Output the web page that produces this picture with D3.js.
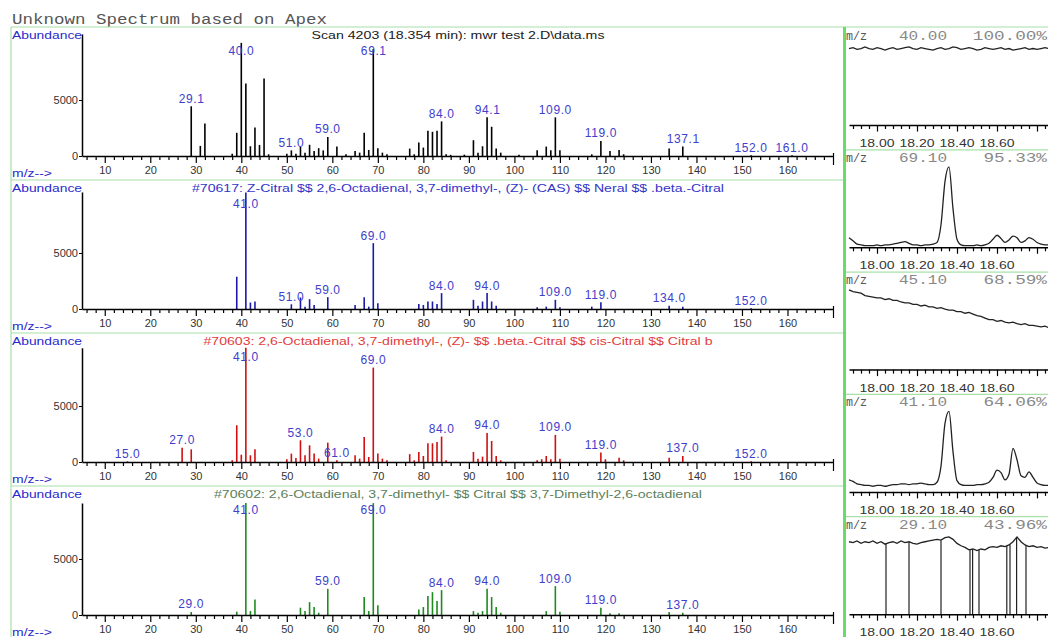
<!DOCTYPE html>
<html>
<head>
<meta charset="utf-8">
<script src="https://cdn.jsdelivr.net/npm/d3@7/dist/d3.min.js"></script>
<style>
body{margin:0;background:#fff}
svg{display:block}
text{font-family:"Liberation Sans",Arial,sans-serif}
.mono{font-family:"Liberation Mono","Courier New",monospace}
</style>
</head>
<body>
<svg id="chart" width="1048" height="637"></svg>
<script>
// ---- data ----
var title = 'Unknown Spectrum based on Apex';

var headers = [
  'Scan 4203 (18.354 min): mwr test 2.D\\data.ms',
  '#70617: Z-Citral $$ 2,6-Octadienal, 3,7-dimethyl-, (Z)- (CAS) $$ Neral $$ .beta.-Citral',
  '#70603: 2,6-Octadienal, 3,7-dimethyl-, (Z)- $$ .beta.-Citral $$ cis-Citral $$ Citral b',
  '#70602: 2,6-Octadienal, 3,7-dimethyl- $$ Citral $$ 3,7-Dimethyl-2,6-octadienal'
];
var headerWidths = [293, 532, 509, 488];
var headerColors = ['#202020', '#3535c8', '#e23c3c', '#5a805a'];
var barColors = ['#000000', '#1a1aa8', '#d01010', '#1f8a1f'];
var yTops = [10900, 10450, 10200, 10000];

// [m/z, abundance]
var peaksScan = [[29,4440],[31,900],[32,2900],[38,200],[39,2070],[40,10100],[41,6470],[42,870],[43,2550],[44,990],[45,6930],[46,150],[50,200],[51,500],[52,200],[53,840],[54,300],[55,1000],[56,450],[57,700],[58,500],[59,1700],[61,840],[63,150],[65,450],[66,300],[67,2070],[68,540],[69,9550],[70,690],[71,300],[72,150],[77,660],[78,150],[79,1200],[80,750],[81,2250],[82,2160],[83,2250],[84,3090],[85,150],[86,100],[89,120],[91,1410],[92,300],[93,870],[94,3450],[95,2610],[96,660],[97,300],[101,120],[105,510],[107,840],[108,510],[109,3450],[110,510],[117,150],[119,1350],[121,450],[123,540],[124,150],[134,660],[137,840],[152,60],[161,60]];
var peaks70617 = [[39,2880],[41,10400],[42,575],[43,670],[51,420],[53,1030],[54,210],[55,880],[56,360],[59,1060],[65,360],[67,1060],[68,210],[69,5880],[70,515],[79,450],[80,360],[81,670],[82,670],[83,450],[84,1420],[91,820],[92,300],[93,670],[94,1420],[95,670],[96,300],[105,150],[107,210],[109,820],[110,150],[117,210],[119,600],[134,300],[137,210],[152,60]];
var peaks70603 = [[15,60],[27,1280],[29,1130],[38,150],[39,3280],[40,650],[41,10200],[42,600],[43,1130],[50,240],[51,750],[52,360],[53,1940],[54,600],[55,1490],[56,750],[57,300],[59,1730],[61,150],[65,600],[66,300],[67,2230],[68,450],[69,8430],[70,750],[71,300],[72,150],[77,700],[78,150],[79,900],[80,540],[81,1670],[82,1670],[83,1790],[84,2270],[85,150],[91,900],[92,300],[93,480],[94,2600],[95,1880],[96,540],[97,150],[105,150],[106,250],[107,540],[108,250],[109,2420],[110,300],[119,840],[120,250],[123,390],[124,150],[134,390],[137,540],[152,60]];
var peaks70602 = [[29,270],[39,300],[41,9990],[42,350],[43,1390],[53,650],[54,350],[55,1150],[56,710],[57,200],[59,2340],[67,1600],[68,350],[69,9990],[70,860],[79,500],[80,710],[81,1690],[82,2040],[83,1240],[84,2220],[91,350],[92,200],[93,350],[94,2340],[95,1600],[96,710],[97,200],[107,350],[109,2580],[110,300],[119,650],[121,150],[123,150],[134,270],[137,200]];

var labelsScan = ['29.1','40.0','51.0','59.0','69.1','84.0','94.1','109.0','119.0','137.1','152.0','161.0'];
var labels70617 = ['41.0','51.0','59.0','69.0','84.0','94.0','109.0','119.0','134.0','152.0'];
var labels70603 = ['15.0','27.0','41.0','53.0','61.0','69.0','84.0','94.0','109.0','119.0','137.0','152.0'];
var labels70602 = ['29.0','41.0','59.0','69.0','84.0','94.0','109.0','119.0','137.0'];

var mzTicks = [10,20,30,40,50,60,70,80,90,100,110,120,130,140,150,160];
var abundanceTicks = [0, 5000];

// extracted ion chromatograms (percent of each trace's own maximum)
var ionMz = ['40.00','69.10','45.10','41.10','29.10'];
var ionPct = ['100.00%','95.33%','68.59%','64.06%','43.96%'];
var timeTicks = ['18.00','18.20','18.40','18.60'];
var ticTimes = [17.86,17.88,17.90,17.92,17.94,17.96,17.98,18.00,18.02,18.04,
  18.06,18.08,18.10,18.12,18.14,18.16,18.18,18.20,18.22,18.24,
  18.26,18.28,18.30,18.32,18.34,18.36,18.38,18.40,18.42,18.44,
  18.46,18.48,18.50,18.52,18.54,18.56,18.58,18.60,18.62,18.64,
  18.66,18.68,18.70,18.72,18.74,18.76,18.78,18.80,18.82,18.84,18.86];
var eic40 = [95,96,94,95,97,95,94,96,95,93, 95,96,94,95,96,97,95,94,96,95,
  94,93,95,96,94,95,97,96,94,95, 96,95,93,94,96,95,94,95,96,94, 95,93,94,95,96,94,95,94,95,96, 95];
var eic69 = [12,8,4,3,2,2,2,3,2,3, 3,4,5,6,7,5,3,3,2,3,
  3,4,6,28,82,100,48,10,3,2, 2,2,3,2,3,5,10,15,11,6, 9,14,12,6,8,12,10,6,4,3, 3];
var eic45 = [99,97,96,95,92,91,90,89,89,87, 88,86,86,84,83,83,81,81,79,80,
  78,78,76,77,75,74,74,72,72,70, 71,69,67,66,64,62,62,60,61,59, 58,59,57,56,57,55,55,54,53,54, 52];
var eic41 = [15,13,10,9,8,8,7,8,8,7, 8,9,9,10,10,9,10,10,11,10,
  9,9,12,32,85,100,50,14,9,8, 8,8,9,9,10,12,18,27,24,15, 22,54,40,20,18,25,18,11,9,8, 8];
var eic29 = [90,89,91,88,90,89,91,88,90,87, 89,90,88,91,89,90,88,87,89,90,
  91,92,93,92,95,96,93,88,85,83, 80,81,79,81,80,83,84,83,85,84, 86,90,96,90,86,84,85,83,84,82, 83];
var drops29 = [18.045,18.16,18.32,18.465,18.478,18.51,18.649,18.665,18.698,18.745];

// ---- drawing ----
var svg = d3.select('#chart');
var W = 1048, H = 637;
var lightGreen = '#a8e0a8';

svg.append('rect').attr('width', W).attr('height', H).attr('fill', '#fff');

svg.append('text').attr('class', 'mono')
  .attr('x', 12).attr('y', 23.5)
  .attr('font-size', 14).attr('fill', '#555')
  .attr('textLength', 315).attr('lengthAdjust', 'spacingAndGlyphs')
  .text(title);

var spectra = [
  {peaks: peaksScan, labels: labelsScan},
  {peaks: peaks70617, labels: labels70617},
  {peaks: peaks70603, labels: labels70603},
  {peaks: peaks70602, labels: labels70602}
];

var x = d3.scaleLinear().domain([5, 170]).range([82, 833]);
var pxPerUnit = 56 / 5000;
var minorTicks = d3.range(6, 171, 2).filter(function(d){ return d % 10 !== 0; });

spectra.forEach(function(s, i){
  var T = 27 + 153 * i, base = T + 129;
  var y = d3.scaleLinear().domain([0, yTops[i]]).range([base, base - yTops[i] * pxPerUnit]);
  var g = svg.append('g');

  // frame line on top of each panel
  g.append('line').attr('x1', 11).attr('x2', i === 0 ? W : 844)
    .attr('y1', T).attr('y2', T).attr('stroke', lightGreen).attr('stroke-width', 1.2);

  g.append('text').attr('x', 12).attr('y', T + 11.5)
    .attr('font-size', 10.5).attr('fill', '#2a2acc')
    .attr('textLength', 70).attr('lengthAdjust', 'spacingAndGlyphs')
    .text('Abundance');
  g.append('text').attr('x', 12).attr('y', T + 150)
    .attr('font-size', 10.5).attr('fill', '#2a2acc')
    .attr('textLength', 40).attr('lengthAdjust', 'spacingAndGlyphs')
    .text('m/z-->');

  g.append('text').attr('x', 458).attr('y', T + 11.5)
    .attr('text-anchor', 'middle').attr('font-size', 10.5)
    .attr('fill', headerColors[i])
    .attr('textLength', headerWidths[i]).attr('lengthAdjust', 'spacingAndGlyphs')
    .text(headers[i]);

  // bars
  g.selectAll('line.bar').data(s.peaks).enter().append('line')
    .attr('class', 'bar')
    .attr('x1', function(d){ return x(d[0]); })
    .attr('x2', function(d){ return x(d[0]); })
    .attr('y1', base)
    .attr('y2', function(d){ return y(d[1]); })
    .attr('stroke', barColors[i]).attr('stroke-width', 1.6);

  // peak labels
  g.selectAll('text.pk').data(s.labels).enter().append('text')
    .attr('class', 'pk')
    .attr('x', function(d){ return x(+d); })
    .attr('y', function(d){
      var p = s.peaks.find(function(q){ return q[0] === Math.round(+d); });
      var top = y(p ? p[1] : 0);
      return Math.max(top - 3.5, T + 28);
    })
    .attr('text-anchor', 'middle').attr('font-size', 12)
    .attr('letter-spacing', 0.6).attr('fill', '#4040cc')
    .text(function(d){ return d; });

  // x axis
  var ax = g.append('g').attr('transform', 'translate(0,' + base + ')');
  ax.call(d3.axisBottom(x).tickValues(minorTicks).tickSize(4).tickSizeOuter(0).tickFormat(''));
  var ax2 = g.append('g').attr('transform', 'translate(0,' + base + ')');
  ax2.call(d3.axisBottom(x).tickValues(mzTicks.concat([170])).tickSize(7).tickSizeOuter(0)
    .tickFormat(function(d){ return d === 170 ? '' : d; }));
  ax2.select('.domain').remove();
  ax.select('.domain').attr('stroke-width', 1.5);
  [ax, ax2].forEach(function(a){
    a.attr('color', '#000');
    a.selectAll('.tick line').attr('stroke-width', 1.2);
    a.selectAll('text').attr('font-size', 11).attr('fill', '#333');
  });
  ax2.selectAll('.tick').filter(function(d){ return d === 170; })
    .select('line').attr('y1', -3).attr('y2', 9);

  // y axis
  var ay = g.append('g').attr('transform', 'translate(' + x(5) + ',0)');
  ay.call(d3.axisLeft(y).tickValues(abundanceTicks).tickSize(3).tickPadding(1)
    .tickSizeOuter(0).tickFormat(d3.format('d')));
  ay.attr('color', '#000');
  ay.select('.domain').attr('stroke-width', 1.5);
  ay.selectAll('text').attr('font-size', 11).attr('fill', '#333');
});

// left border
svg.append('line').attr('x1', 11).attr('x2', 11).attr('y1', 27).attr('y2', H)
  .attr('stroke', lightGreen).attr('stroke-width', 1.2);

// ---- right side: ion chromatograms ----
var traces = [eic40, eic69, eic45, eic41, eic29];
var smooth = [false, true, false, true, false];
var xt = d3.scaleLinear().domain([17.86, 18.86]).range([849, 1049]);
var timeMajor = [18.0, 18.2, 18.4, 18.6, 18.8];
var timeMinor = d3.range(0, 25).map(function(k){ return +(17.88 + k * 0.04).toFixed(2); })
  .filter(function(t){ return timeMajor.indexOf(t) < 0; });

traces.forEach(function(vals, j){
  var R = 27.5 + 122.3 * j, b = R + 97.5;
  var yt = d3.scaleLinear().domain([0, 100]).range([b, R + 17]);
  var g = svg.append('g');

  if (j > 0) {
    g.append('line').attr('x1', 846).attr('x2', W).attr('y1', R).attr('y2', R)
      .attr('stroke', lightGreen).attr('stroke-width', 1.2);
  }

  g.append('text').attr('class', 'mono').attr('x', 846).attr('y', R + 12)
    .attr('font-size', 12).attr('fill', '#555')
    .attr('textLength', 21).attr('lengthAdjust', 'spacingAndGlyphs').text('m/z');
  g.append('text').attr('class', 'mono').attr('x', 947).attr('y', R + 12)
    .attr('text-anchor', 'end').attr('font-size', 12).attr('fill', '#888')
    .attr('textLength', 48).attr('lengthAdjust', 'spacingAndGlyphs').text(ionMz[j]);
  g.append('text').attr('class', 'mono').attr('x', 1047).attr('y', R + 12)
    .attr('text-anchor', 'end').attr('font-size', 12).attr('fill', '#888')
    .attr('textLength', 10.6 * ionPct[j].length).attr('lengthAdjust', 'spacingAndGlyphs').text(ionPct[j]);

  var line = d3.line()
    .x(function(d, k){ return xt(ticTimes[k]); })
    .y(function(d){ return yt(d); })
    .curve(smooth[j] ? d3.curveMonotoneX : d3.curveLinear);
  g.append('path').attr('d', line(vals))
    .attr('fill', 'none').attr('stroke', '#222').attr('stroke-width', 1.3);

  if (j === 4) {
    var bis = d3.bisector(function(d){ return d; }).left;
    g.selectAll('line.drop').data(drops29).enter().append('line')
      .attr('class', 'drop')
      .attr('x1', function(t){ return xt(t); }).attr('x2', function(t){ return xt(t); })
      .attr('y1', function(t){
        var k = Math.max(1, bis(ticTimes, t));
        var f = (t - ticTimes[k - 1]) / (ticTimes[k] - ticTimes[k - 1]);
        return yt(vals[k - 1] + f * (vals[k] - vals[k - 1]));
      })
      .attr('y2', b)
      .attr('stroke', '#222').attr('stroke-width', 1.2);
  }

  var at = g.append('g').attr('transform', 'translate(0,' + b + ')');
  at.call(d3.axisBottom(xt).tickValues(timeMinor).tickSize(4).tickSizeOuter(0).tickFormat(''));
  var at2 = g.append('g').attr('transform', 'translate(0,' + b + ')');
  at2.call(d3.axisBottom(xt).tickValues(timeMajor).tickSize(6.5).tickSizeOuter(0).tickFormat(''));
  at2.select('.domain').remove();
  at.attr('color', '#000'); at2.attr('color', '#000');
  at.select('.domain').attr('stroke-width', 1.5);
  at.selectAll('.tick line').attr('stroke-width', 1.2);
  at2.selectAll('.tick line').attr('stroke-width', 1.2);

  g.selectAll('text.tt').data(timeTicks).enter().append('text')
    .attr('class', 'tt')
    .attr('x', function(d){ return xt(+d); }).attr('y', b + 22)
    .attr('text-anchor', 'middle').attr('font-size', 11).attr('fill', '#333')
    .attr('textLength', 35).attr('lengthAdjust', 'spacingAndGlyphs')
    .text(function(d){ return d; });
});

// bright green divider between the two halves
svg.append('line').attr('x1', 844.5).attr('x2', 844.5).attr('y1', 27).attr('y2', H)
  .attr('stroke', '#66dd66').attr('stroke-width', 3);
</script>
</body>
</html>
